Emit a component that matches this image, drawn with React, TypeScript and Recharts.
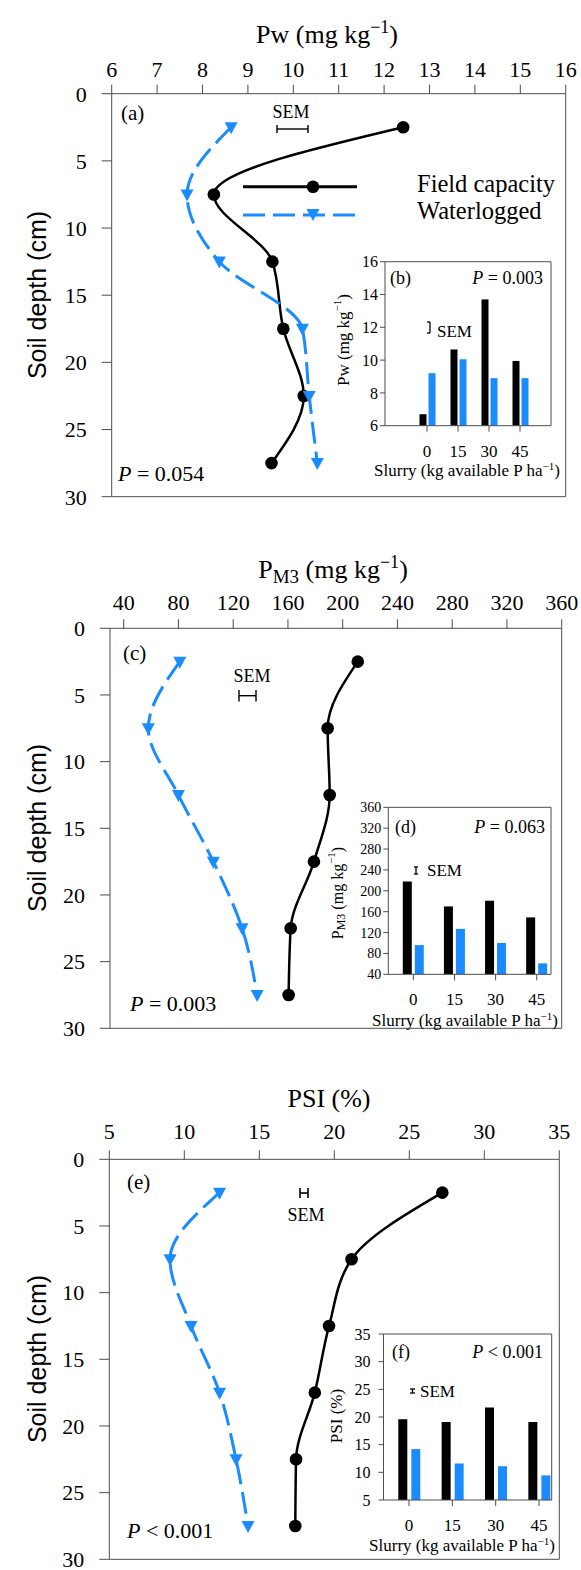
import React from "react";
import { LineChart, Line, XAxis, YAxis, ReferenceLine, BarChart, Bar } from "recharts";

const SERIF = "'Liberation Serif', 'Times New Roman', serif";
const SANS = "'Liberation Sans', Arial, sans-serif";
const BLUE = "#1a8cff";
const AXIS = "#4d4d4d";

// depth profiles (cm)
const DEPTHS = [2.5, 7.5, 12.5, 17.5, 22.5, 27.5];
const DEPTH_TICKS = [0, 5, 10, 15, 20, 25, 30];

const PW_FIELD = [12.42, 8.25, 9.54, 9.78, 10.23, 9.52];
const PW_WATER = [8.63, 7.66, 8.37, 10.2, 10.35, 10.53];
const PW_TICKS = [6, 7, 8, 9, 10, 11, 12, 13, 14, 15, 16];

const PM3_FIELD = [211, 189, 190.5, 179, 162, 160.5];
const PM3_WATER = [81, 58, 80, 105.5, 126.5, 137.5];
const PM3_TICKS = [40, 80, 120, 160, 200, 240, 280, 320, 360];

const PSI_FIELD = [27.2, 21.15, 19.65, 18.7, 17.45, 17.4];
const PSI_WATER = [12.35, 9.05, 10.45, 12.35, 13.45, 14.25];
const PSI_TICKS = [5, 10, 15, 20, 25, 30, 35];

// insets: slurry rate (kg available P ha-1)
const SLURRY = ["0", "15", "30", "45"];
const PW_BAR_FIELD = [6.7, 10.65, 13.7, 9.95];
const PW_BAR_WATER = [9.2, 10.05, 8.9, 8.9];
const PW_BAR_TICKS = [6, 8, 10, 12, 14, 16];

const PM3_BAR_FIELD = [218, 170, 181, 149];
const PM3_BAR_WATER = [96, 127, 100, 61];

const PSI_BAR_FIELD = [19.6, 19.1, 21.7, 19.1];
const PSI_BAR_WATER = [14.2, 11.6, 11.1, 9.45];

const toRows = (field: number[], water: number[]) =>
    DEPTHS.map((depth, i) => ({ depth, field: field[i], water: water[i] }));
const toBars = (field: number[], water: number[]) =>
    SLURRY.map((slurry, i) => ({ slurry, field: field[i], water: water[i] }));

const tri = (cx: number, cy: number) =>
    `${cx - 6.5},${cy - 5} ${cx + 6.5},${cy - 5} ${cx},${cy + 7}`;

// eslint-disable-next-line @typescript-eslint/no-explicit-any
const renderCircle = (p: any) => <circle key={`fc-${p.index}`} cx={p.cx} cy={p.cy} r={6.3} fill="#000" />;
// eslint-disable-next-line @typescript-eslint/no-explicit-any
const renderTriangle = (p: any) => <polygon key={`wl-${p.index}`} points={tri(p.cx, p.cy)} fill={BLUE} />;

type Margin = { top: number; right: number; bottom: number; left: number };

function Profile({ top, height, rows, domain, ticks, margin, tickMargin }: {
    top: number; height: number; rows: object[]; domain: [number, number];
    ticks: number[]; margin: Margin; tickMargin: number;
}) {
    return (
        <div style={{ position: "absolute", left: 0, top }}>
            <LineChart layout="vertical" width={581} height={height} data={rows} margin={margin}>
                <XAxis type="number" orientation="top" domain={domain} ticks={ticks} interval={0}
                    height={40} tickSize={9} tickMargin={tickMargin} stroke={AXIS}
                    tick={{ fill: "#000", fontSize: 22, fontFamily: SERIF }} />
                <YAxis type="number" dataKey="depth" domain={[0, 30]} ticks={DEPTH_TICKS} interval={0}
                    width={60} tickSize={10} tickMargin={15} stroke={AXIS}
                    tick={{ fill: "#000", fontSize: 22, fontFamily: SERIF }} />
                <ReferenceLine x={domain[1]} stroke={AXIS} />
                <ReferenceLine y={30} stroke={AXIS} />
                <Line dataKey="field" type="monotone" stroke="#000" strokeWidth={2.5}
                    dot={renderCircle} activeDot={false} isAnimationActive={false} />
                <Line dataKey="water" type="monotone" stroke={BLUE} strokeWidth={3} strokeDasharray="22 8"
                    dot={renderTriangle} activeDot={false} isAnimationActive={false} />
            </LineChart>
        </div>
    );
}

function Inset({ left, top, rows, domain, ticks, margin, padding, yTickMargin, yFont, barSize, barGap }: {
    left: number; top: number; rows: object[]; domain: [number, number]; ticks: number[];
    margin: Margin; padding: { left: number; right: number }; yTickMargin: number; yFont: number;
    barSize: number; barGap: number;
}) {
    return (
        <div style={{ position: "absolute", left, top }}>
            <BarChart width={240} height={240} data={rows} margin={margin} barSize={barSize} barGap={barGap}>
                <XAxis dataKey="slurry" padding={padding} height={30} tickSize={6} tickMargin={13}
                    interval={0} stroke={AXIS} tick={{ fill: "#000", fontSize: 17, fontFamily: SERIF }} />
                <YAxis type="number" domain={domain} ticks={ticks} interval={0} width={30}
                    tickSize={5} tickMargin={yTickMargin} stroke={AXIS}
                    tick={{ fill: "#000", fontSize: yFont, fontFamily: SERIF }} />
                <Bar dataKey="field" fill="#000" isAnimationActive={false} />
                <Bar dataKey="water" fill={BLUE} isAnimationActive={false} />
            </BarChart>
        </div>
    );
}

const txt = { fontFamily: SERIF, fill: "#000" };

function SlurryLabel({ x, y }: { x: number; y: number }) {
    return (
        <text x={x} y={y} textAnchor="middle" fontSize={17} {...txt}>
            Slurry (kg available P ha<tspan dy={-6} fontSize={11}>−1</tspan><tspan dy={6}>)</tspan>
        </text>
    );
}

function Depth({ y }: { y: number }) {
    return (
        <text x={37} y={y} transform={`rotate(-90 37 ${y})`} textAnchor="middle" dominantBaseline="central"
            fontSize={25} fontFamily={SANS} fill="#000">Soil depth (cm)</text>
    );
}

function Annotations() {
    return (
        <svg width={581} height={1570} style={{ position: "absolute", left: 0, top: 0 }}>
            {/* (a) */}
            <text x={327} y={43} textAnchor="middle" fontSize={26} {...txt}>
                Pw (mg kg<tspan dy={-10} fontSize={18}>−1</tspan><tspan dy={10}>)</tspan>
            </text>
            <Depth y={295} />
            <text x={121} y={120} fontSize={21} {...txt}>(a)</text>
            <text x={291} y={118} textAnchor="middle" fontSize={18} {...txt}>SEM</text>
            <g stroke="#000" strokeWidth={1.4}>
                <line x1={277} y1={129} x2={308} y2={129} />
                <line x1={277} y1={125} x2={277} y2={133} />
                <line x1={308} y1={125} x2={308} y2={133} />
            </g>
            <line x1={243} y1={186.7} x2={357} y2={186.7} stroke="#000" strokeWidth={3} />
            <circle cx={313} cy={186.7} r={6.3} fill="#000" />
            <line x1={243} y1={215} x2={357} y2={215} stroke={BLUE} strokeWidth={3} strokeDasharray="22 8" />
            <polygon points={tri(313, 214)} fill={BLUE} />
            <text x={417} y={192} fontSize={24.5} {...txt}>Field capacity</text>
            <text x={417} y={219} fontSize={24.5} {...txt}>Waterlogged</text>
            <text x={118} y={481} fontSize={22} {...txt}><tspan fontStyle="italic">P</tspan> = 0.054</text>

            {/* (b) */}
            <g stroke={AXIS} strokeWidth={1}>
                <line x1={385} y1={261.7} x2={551} y2={261.7} />
                <line x1={551} y1={261.7} x2={551} y2={425.7} />
            </g>
            <text x={390} y={284} fontSize={18} {...txt}>(b)</text>
            <text x={543} y={284} textAnchor="end" fontSize={18} {...txt}><tspan fontStyle="italic">P</tspan> = 0.003</text>
            <g stroke="#000" strokeWidth={1.3}>
                <line x1={430} y1={322} x2={430} y2={333} />
                <line x1={427} y1={322} x2={430} y2={322} />
                <line x1={427} y1={333} x2={430} y2={333} />
            </g>
            <text x={437} y={337} fontSize={17} {...txt}>SEM</text>
            <text x={343} y={340} transform="rotate(-90 343 340)" textAnchor="middle" dominantBaseline="central" fontSize={17} {...txt}>
                Pw (mg kg<tspan dy={-6} fontSize={11}>−1</tspan><tspan dy={6}>)</tspan>
            </text>
            <SlurryLabel x={467} y={476} />

            {/* (c) */}
            <text x={333} y={578} textAnchor="middle" fontSize={26} {...txt}>
                P<tspan dy={5} fontSize={19}>M3</tspan><tspan dy={-5}> (mg kg</tspan><tspan dy={-10} fontSize={18}>−1</tspan><tspan dy={10}>)</tspan>
            </text>
            <Depth y={828} />
            <text x={123} y={660} fontSize={21} {...txt}>(c)</text>
            <text x={252} y={682} textAnchor="middle" fontSize={18} {...txt}>SEM</text>
            <g stroke="#000" strokeWidth={1.4}>
                <line x1={239} y1={695.7} x2={256} y2={695.7} />
                <line x1={239} y1={690} x2={239} y2={701.5} />
                <line x1={256} y1={690} x2={256} y2={701.5} />
            </g>
            <text x={130} y={1011} fontSize={22} {...txt}><tspan fontStyle="italic">P</tspan> = 0.003</text>

            {/* (d) */}
            <g stroke={AXIS} strokeWidth={1}>
                <line x1={388.3} y1={807.3} x2={551} y2={807.3} />
                <line x1={551} y1={807.3} x2={551} y2={974.3} />
            </g>
            <text x={395} y={833} fontSize={18} {...txt}>(d)</text>
            <text x={545} y={833} textAnchor="end" fontSize={18} {...txt}><tspan fontStyle="italic">P</tspan> = 0.063</text>
            <g stroke="#000" strokeWidth={1.3}>
                <line x1={416} y1={867} x2={416} y2={874} />
                <line x1={414} y1={867} x2={418} y2={867} />
                <line x1={414} y1={874} x2={418} y2={874} />
            </g>
            <text x={427} y={876} fontSize={17} {...txt}>SEM</text>
            <text x={337} y={893} transform="rotate(-90 337 893)" textAnchor="middle" dominantBaseline="central" fontSize={16} {...txt}>
                P<tspan dy={4} fontSize={12}>M3</tspan><tspan dy={-4}> (mg kg</tspan><tspan dy={-6} fontSize={11}>−1</tspan><tspan dy={6}>)</tspan>
            </text>
            <SlurryLabel x={465} y={1026} />

            {/* (e) */}
            <text x={329} y={1107} textAnchor="middle" fontSize={26} {...txt}>PSI (%)</text>
            <Depth y={1359} />
            <text x={127} y={1189} fontSize={21} {...txt}>(e)</text>
            <g stroke="#000" strokeWidth={1.6}>
                <line x1={300} y1={1188} x2={300} y2={1198} />
                <line x1={308} y1={1188} x2={308} y2={1198} />
                <line x1={300} y1={1193} x2={308} y2={1193} />
            </g>
            <text x={306} y={1221} textAnchor="middle" fontSize={18} {...txt}>SEM</text>
            <text x={127} y={1538} fontSize={22} {...txt}><tspan fontStyle="italic">P</tspan> &lt; 0.001</text>

            {/* (f) */}
            <g stroke={AXIS} strokeWidth={1}>
                <line x1={383.5} y1={1334} x2={551.7} y2={1334} />
                <line x1={551.7} y1={1334} x2={551.7} y2={1500} />
            </g>
            <text x={392} y={1358} fontSize={18} {...txt}>(f)</text>
            <text x={543} y={1358} textAnchor="end" fontSize={18} {...txt}><tspan fontStyle="italic">P</tspan> &lt; 0.001</text>
            <g stroke="#000" strokeWidth={1.3}>
                <line x1={412.5} y1={1389} x2={412.5} y2={1393} />
                <line x1={410} y1={1389} x2={415} y2={1389} />
                <line x1={410} y1={1393} x2={415} y2={1393} />
            </g>
            <text x={420} y={1397} fontSize={17} {...txt}>SEM</text>
            <text x={336} y={1416} transform="rotate(-90 336 1416)" textAnchor="middle" dominantBaseline="central" fontSize={17} {...txt}>PSI (%)</text>
            <SlurryLabel x={462} y={1551} />
        </svg>
    );
}

export default function App() {
    return (
        <div style={{ position: "absolute", left: 0, top: 0, width: 581, height: 1570, overflow: "hidden", background: "#fff" }}>
            <Profile top={0} height={530} rows={toRows(PW_FIELD, PW_WATER)} domain={[6, 16]} ticks={PW_TICKS}
                margin={{ top: 53.7, right: 15.3, bottom: 33.3, left: 51.7 }} tickMargin={8} />
            <Profile top={530} height={530} rows={toRows(PM3_FIELD, PM3_WATER)} domain={[30, 360]} ticks={PM3_TICKS}
                margin={{ top: 58.3, right: 19.3, bottom: 31.7, left: 50 }} tickMargin={9} />
            <Profile top={1060} height={510} rows={toRows(PSI_FIELD, PSI_WATER)} domain={[5, 35]} ticks={PSI_TICKS}
                margin={{ top: 59.3, right: 21.7, bottom: 10.7, left: 49.3 }} tickMargin={11} />

            <Inset left={330} top={250} rows={toBars(PW_BAR_FIELD, PW_BAR_WATER)} domain={[6, 16]} ticks={PW_BAR_TICKS}
                margin={{ top: 11.7, right: 19, bottom: 34.3, left: 25 }} padding={{ left: 26.5, right: 15.5 }}
                yTickMargin={2} yFont={16} barSize={7} barGap={2} />
            <Inset left={330} top={795} rows={toBars(PM3_BAR_FIELD, PM3_BAR_WATER)} domain={[40, 360]} ticks={PM3_TICKS}
                margin={{ top: 12.3, right: 19, bottom: 30.7, left: 28.3 }} padding={{ left: 4.5, right: -6.3 }}
                yTickMargin={2} yFont={14} barSize={9} barGap={3} />
            <Inset left={330} top={1322} rows={toBars(PSI_BAR_FIELD, PSI_BAR_WATER)} domain={[5, 35]} ticks={PSI_TICKS}
                margin={{ top: 12, right: 18.3, bottom: 32, left: 23.5 }} padding={{ left: 3.8, right: -9 }}
                yTickMargin={8} yFont={16} barSize={9} barGap={4} />

            <Annotations />
        </div>
    );
}
